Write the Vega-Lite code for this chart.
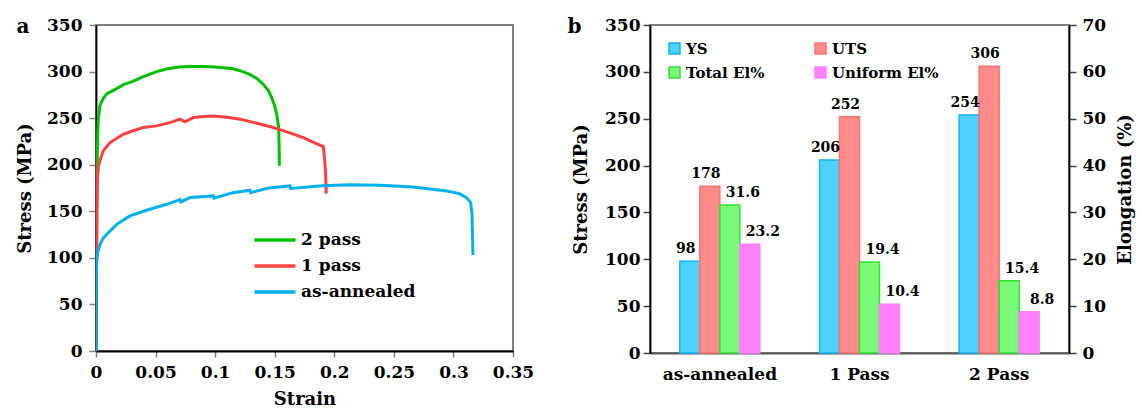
{
  "$schema": "https://vega.github.io/schema/vega-lite/v6.json",
  "padding": {"left": 15, "top": 15, "right": 0, "bottom": 0},
  "config": {
    "font": "DejaVu Serif",
    "view": {"stroke": "#808080", "strokeWidth": 2},
    "axis": {"labelFont": "DejaVu Serif", "labelFontWeight": "bold", "labelFontSize": 17, "labelColor": "#000000",
             "titleFont": "DejaVu Serif", "titleFontWeight": "bold", "titleFontSize": 18, "titleColor": "#000000",
             "grid": false, "domainColor": "#000000", "domainWidth": 1.8, "tickColor": "#808080", "tickWidth": 1.5, "tickSize": 7},
    "legend": {"labelFont": "DejaVu Serif", "labelFontWeight": "bold", "labelColor": "#000000"},
    "title": {"font": "DejaVu Serif", "fontWeight": "bold", "fontSize": 20, "anchor": "start", "frame": "bounds", "color": "#000000"},
    "concat": {"spacing": 31}
  },
  "resolve": {"scale": {"color": "independent", "stroke": "independent"}, "legend": {"color": "independent", "stroke": "independent"}},
  "hconcat": [
    {
      "width": 417,
      "height": 326,
      "title": {"text": "a", "offset": -21},
      "data": {"values": [
        {"sample": "2 pass", "strain": 0, "stress": 0},
        {"sample": "2 pass", "strain": 0.0004, "stress": 100},
        {"sample": "2 pass", "strain": 0.0008, "stress": 180},
        {"sample": "2 pass", "strain": 0.0011, "stress": 215},
        {"sample": "2 pass", "strain": 0.0016, "stress": 240},
        {"sample": "2 pass", "strain": 0.002, "stress": 250},
        {"sample": "2 pass", "strain": 0.0034, "stress": 264},
        {"sample": "2 pass", "strain": 0.006, "stress": 271},
        {"sample": "2 pass", "strain": 0.009, "stress": 276},
        {"sample": "2 pass", "strain": 0.015, "stress": 280},
        {"sample": "2 pass", "strain": 0.023, "stress": 286},
        {"sample": "2 pass", "strain": 0.031, "stress": 289.5},
        {"sample": "2 pass", "strain": 0.0397, "stress": 294.5},
        {"sample": "2 pass", "strain": 0.051, "stress": 300},
        {"sample": "2 pass", "strain": 0.06, "stress": 303},
        {"sample": "2 pass", "strain": 0.07, "stress": 305},
        {"sample": "2 pass", "strain": 0.0789, "stress": 305.5},
        {"sample": "2 pass", "strain": 0.09, "stress": 305.5},
        {"sample": "2 pass", "strain": 0.1, "stress": 305},
        {"sample": "2 pass", "strain": 0.1068, "stress": 304},
        {"sample": "2 pass", "strain": 0.115, "stress": 303},
        {"sample": "2 pass", "strain": 0.122, "stress": 300.5},
        {"sample": "2 pass", "strain": 0.129, "stress": 297},
        {"sample": "2 pass", "strain": 0.135, "stress": 292.5},
        {"sample": "2 pass", "strain": 0.1404, "stress": 286.4},
        {"sample": "2 pass", "strain": 0.1445, "stress": 280},
        {"sample": "2 pass", "strain": 0.1475, "stress": 272},
        {"sample": "2 pass", "strain": 0.15, "stress": 263},
        {"sample": "2 pass", "strain": 0.1517, "stress": 254},
        {"sample": "2 pass", "strain": 0.1533, "stress": 240},
        {"sample": "2 pass", "strain": 0.1537, "stress": 220},
        {"sample": "2 pass", "strain": 0.1539, "stress": 199},
        {"sample": "1 pass", "strain": 0, "stress": 0},
        {"sample": "1 pass", "strain": 0.0004, "stress": 80},
        {"sample": "1 pass", "strain": 0.0008, "stress": 150},
        {"sample": "1 pass", "strain": 0.0012, "stress": 185},
        {"sample": "1 pass", "strain": 0.002, "stress": 198},
        {"sample": "1 pass", "strain": 0.0034, "stress": 205},
        {"sample": "1 pass", "strain": 0.0061, "stress": 214.8},
        {"sample": "1 pass", "strain": 0.0118, "stress": 223.8},
        {"sample": "1 pass", "strain": 0.0229, "stress": 232.7},
        {"sample": "1 pass", "strain": 0.031, "stress": 236.5},
        {"sample": "1 pass", "strain": 0.0397, "stress": 239.9},
        {"sample": "1 pass", "strain": 0.051, "stress": 241.7},
        {"sample": "1 pass", "strain": 0.0621, "stress": 245.2},
        {"sample": "1 pass", "strain": 0.0705, "stress": 248.9},
        {"sample": "1 pass", "strain": 0.0747, "stress": 246},
        {"sample": "1 pass", "strain": 0.0817, "stress": 250.6},
        {"sample": "1 pass", "strain": 0.09, "stress": 251.8},
        {"sample": "1 pass", "strain": 0.0985, "stress": 252.4},
        {"sample": "1 pass", "strain": 0.11, "stress": 251},
        {"sample": "1 pass", "strain": 0.1209, "stress": 248.9},
        {"sample": "1 pass", "strain": 0.135, "stress": 244.5},
        {"sample": "1 pass", "strain": 0.1488, "stress": 239.9},
        {"sample": "1 pass", "strain": 0.162, "stress": 234.5},
        {"sample": "1 pass", "strain": 0.174, "stress": 229},
        {"sample": "1 pass", "strain": 0.1845, "stress": 223},
        {"sample": "1 pass", "strain": 0.1908, "stress": 219.5},
        {"sample": "1 pass", "strain": 0.192, "stress": 205},
        {"sample": "1 pass", "strain": 0.1927, "stress": 190},
        {"sample": "1 pass", "strain": 0.1933, "stress": 169},
        {"sample": "as-annealed", "strain": 0, "stress": 0},
        {"sample": "as-annealed", "strain": 0.0001, "stress": 50},
        {"sample": "as-annealed", "strain": 0.0003, "stress": 80},
        {"sample": "as-annealed", "strain": 0.0006, "stress": 97},
        {"sample": "as-annealed", "strain": 0.0015, "stress": 106},
        {"sample": "as-annealed", "strain": 0.0034, "stress": 114.6},
        {"sample": "as-annealed", "strain": 0.006, "stress": 121},
        {"sample": "as-annealed", "strain": 0.009, "stress": 125.3},
        {"sample": "as-annealed", "strain": 0.0174, "stress": 136},
        {"sample": "as-annealed", "strain": 0.0285, "stress": 145},
        {"sample": "as-annealed", "strain": 0.0425, "stress": 151.1},
        {"sample": "as-annealed", "strain": 0.0593, "stress": 157.5},
        {"sample": "as-annealed", "strain": 0.0705, "stress": 162.5},
        {"sample": "as-annealed", "strain": 0.0712, "stress": 160},
        {"sample": "as-annealed", "strain": 0.0789, "stress": 164.7},
        {"sample": "as-annealed", "strain": 0.0985, "stress": 166.5},
        {"sample": "as-annealed", "strain": 0.099, "stress": 164},
        {"sample": "as-annealed", "strain": 0.115, "stress": 170},
        {"sample": "as-annealed", "strain": 0.1293, "stress": 172.6},
        {"sample": "as-annealed", "strain": 0.1298, "stress": 170},
        {"sample": "as-annealed", "strain": 0.145, "stress": 175},
        {"sample": "as-annealed", "strain": 0.1628, "stress": 177.2},
        {"sample": "as-annealed", "strain": 0.1633, "stress": 174.5},
        {"sample": "as-annealed", "strain": 0.19, "stress": 177.5},
        {"sample": "as-annealed", "strain": 0.2132, "stress": 178.5},
        {"sample": "as-annealed", "strain": 0.2384, "stress": 178},
        {"sample": "as-annealed", "strain": 0.2663, "stress": 176},
        {"sample": "as-annealed", "strain": 0.2943, "stress": 171.9},
        {"sample": "as-annealed", "strain": 0.305, "stress": 169},
        {"sample": "as-annealed", "strain": 0.311, "stress": 164.7},
        {"sample": "as-annealed", "strain": 0.3145, "stress": 159.3},
        {"sample": "as-annealed", "strain": 0.3156, "stress": 146.8},
        {"sample": "as-annealed", "strain": 0.316, "stress": 125},
        {"sample": "as-annealed", "strain": 0.3164, "stress": 103}
      ]},
      "mark": {"type": "line", "strokeWidth": 3, "clip": true},
      "encoding": {
        "x": {"field": "strain", "type": "quantitative",
              "scale": {"domain": [0, 0.35], "nice": false},
              "axis": {"values": [0, 0.05, 0.1, 0.15, 0.2, 0.25, 0.3, 0.35], "format": ".2~f", "title": "Strain",
                       "tickSize": 6, "labelPadding": 7, "titlePadding": 10, "labelFlush": false}},
        "y": {"field": "stress", "type": "quantitative",
              "scale": {"domain": [0, 350], "nice": false},
              "axis": {"values": [0, 50, 100, 150, 200, 250, 300, 350], "title": "Stress (MPa)",
                       "labelPadding": 7, "titlePadding": 12}},
        "color": {"field": "sample", "type": "nominal",
                  "scale": {"domain": ["2 pass", "1 pass", "as-annealed"], "range": ["#00C000", "#FF4040", "#00B0F0"]},
                  "legend": {"title": null, "orient": "none", "legendX": 167, "legendY": 203,
                             "symbolType": "M-2,0H2", "symbolSize": 420, "symbolStrokeWidth": 3.5,
                             "labelFontSize": 17, "labelOffset": 14, "rowPadding": 6}},
        "order": {"value": null}
      }
    },
    {
      "width": 419,
      "height": 328,
      "title": {"text": "b", "offset": -21, "dx": -5},
      "data": {"values": [
        {"group": "as-annealed", "metric": "YS", "kind": "stress", "value": 98},
        {"group": "as-annealed", "metric": "UTS", "kind": "stress", "value": 178},
        {"group": "as-annealed", "metric": "Total El%", "kind": "elong", "value": 31.6},
        {"group": "as-annealed", "metric": "Uniform El%", "kind": "elong", "value": 23.2},
        {"group": "1 Pass", "metric": "YS", "kind": "stress", "value": 206},
        {"group": "1 Pass", "metric": "UTS", "kind": "stress", "value": 252},
        {"group": "1 Pass", "metric": "Total El%", "kind": "elong", "value": 19.4},
        {"group": "1 Pass", "metric": "Uniform El%", "kind": "elong", "value": 10.4},
        {"group": "2 Pass", "metric": "YS", "kind": "stress", "value": 254},
        {"group": "2 Pass", "metric": "UTS", "kind": "stress", "value": 306},
        {"group": "2 Pass", "metric": "Total El%", "kind": "elong", "value": 15.4},
        {"group": "2 Pass", "metric": "Uniform El%", "kind": "elong", "value": 8.8}
      ]},
      "encoding": {
        "x": {"field": "group", "type": "nominal", "sort": ["as-annealed", "1 Pass", "2 Pass"],
              "scale": {"paddingInner": 0.427, "paddingOuter": 0.2135},
              "axis": {"title": null, "labelAngle": 0, "ticks": false, "domainColor": "#5a5a5a", "labelPadding": 13}},
        "xOffset": {"field": "metric", "type": "nominal",
                    "scale": {"domain": ["YS", "UTS", "Total El%", "Uniform El%"], "paddingInner": 0, "paddingOuter": 0}}
      },
      "layer": [
        {
          "transform": [{"filter": "datum.kind === 'stress'"}],
          "encoding": {
            "y": {"field": "value", "type": "quantitative",
                  "scale": {"domain": [0, 350], "nice": false},
                  "axis": {"values": [0, 50, 100, 150, 200, 250, 300, 350], "title": "Stress (MPa)",
                           "tickColor": "#404040", "labelPadding": 3, "titlePadding": 14}}
          },
          "layer": [
            {"mark": {"type": "bar", "strokeWidth": 1.5},
             "encoding": {
               "color": {"field": "metric", "type": "nominal",
                         "scale": {"domain": ["YS", "UTS", "Total El%", "Uniform El%"], "range": ["#4DD2FF", "#FF8C8A", "#78FA78", "#FF80FF"]},
                         "legend": {"title": null, "orient": "none", "legendX": 17, "legendY": 16, "columns": 2, "columnPadding": 47,
                                    "values": ["YS", "Total El%", "UTS", "Uniform El%"],
                                    "rowPadding": 7, "symbolType": "square", "symbolSize": 121, "symbolStrokeWidth": 1.5,
                                    "labelFontSize": 15, "labelOffset": 4}},
               "stroke": {"field": "metric", "type": "nominal",
                          "scale": {"domain": ["YS", "UTS", "Total El%", "Uniform El%"], "range": ["#10B4F0", "#FF7070", "#33E033", "#FF80FF"]},
                          "legend": {"title": null, "orient": "none", "legendX": 17, "legendY": 16, "columns": 2, "columnPadding": 47,
                                    "values": ["YS", "Total El%", "UTS", "Uniform El%"],
                                    "rowPadding": 7, "symbolType": "square", "symbolSize": 121, "symbolStrokeWidth": 1.5,
                                    "labelFontSize": 15, "labelOffset": 4}}
             }},
            {"mark": {"type": "text", "baseline": "bottom", "dy": -5, "dx": -4, "fontSize": 14, "fontWeight": "bold", "font": "DejaVu Serif", "color": "#000000"},
             "encoding": {"text": {"field": "value", "type": "quantitative"}}}
          ]
        },
        {
          "transform": [{"filter": "datum.kind === 'elong'"}],
          "encoding": {
            "y": {"field": "value", "type": "quantitative",
                  "scale": {"domain": [0, 70], "nice": false},
                  "axis": {"orient": "right", "values": [0, 10, 20, 30, 40, 50, 60, 70], "title": "Elongation (%)",
                           "titleAngle": 270, "titleBaseline": "top", "tickColor": "#404040", "labelPadding": 6, "titlePadding": 11}}
          },
          "layer": [
            {"mark": {"type": "bar", "strokeWidth": 1.5},
             "encoding": {
               "color": {"field": "metric", "type": "nominal"},
               "stroke": {"field": "metric", "type": "nominal"}
             }},
            {"mark": {"type": "text", "baseline": "bottom", "dy": -5, "dx": 13, "fontSize": 14, "fontWeight": "bold", "font": "DejaVu Serif", "color": "#000000"},
             "encoding": {"text": {"field": "value", "type": "quantitative", "format": ".1f"}}}
          ]
        }
      ],
      "resolve": {"scale": {"y": "independent"}}
    }
  ]
}
